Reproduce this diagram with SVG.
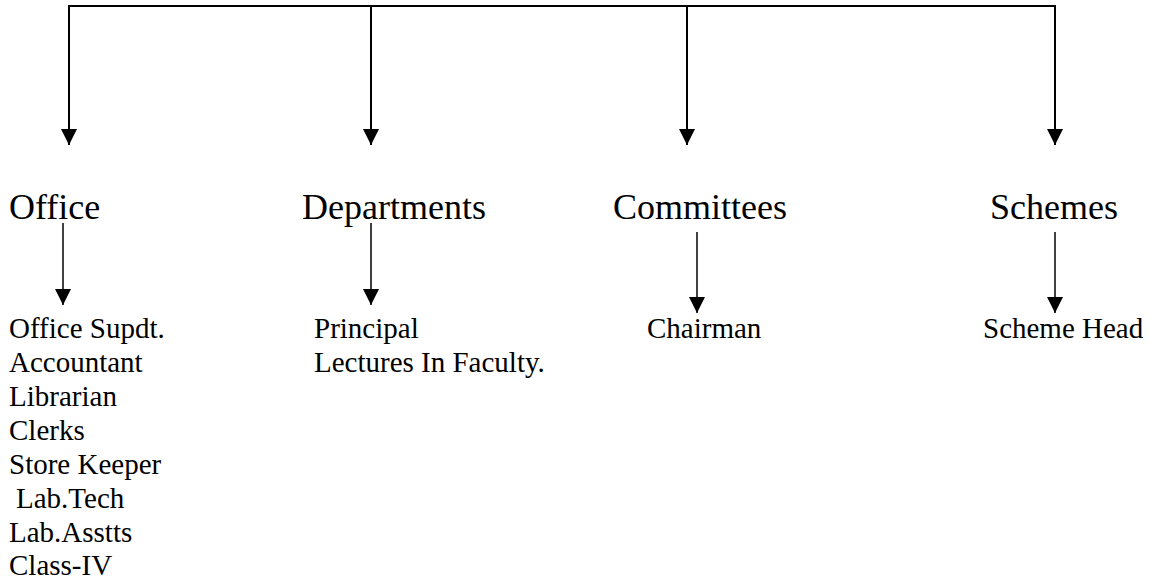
<svg xmlns="http://www.w3.org/2000/svg" width="1150" height="586" viewBox="0 0 1150 586">
<style>
.main{font-family:"Liberation Serif","Times New Roman",serif;font-size:36px;fill:#000}
.sub{font-family:"Liberation Serif","Times New Roman",serif;font-size:29px;fill:#000}
.c1{stroke:#000;stroke-width:2;fill:none}
.c2{stroke:#000;stroke-width:1.5;fill:none}
</style>
<defs>
<marker id="ah" markerUnits="userSpaceOnUse" markerWidth="16" markerHeight="16" viewBox="0 0 16 16" refX="16" refY="8" orient="auto">
<path d="M0,0 L16,8 L0,16 z" fill="#000"/>
</marker>
</defs>
<rect width="1150" height="586" fill="#fff"/>
<g id="connectors">
<line class="c1" x1="68" y1="6" x2="1056" y2="6"/>
<line class="c1" x1="69" y1="5" x2="69" y2="145" marker-end="url(#ah)"/>
<line class="c1" x1="371" y1="6" x2="371" y2="145" marker-end="url(#ah)"/>
<line class="c1" x1="687" y1="6" x2="687" y2="145" marker-end="url(#ah)"/>
<line class="c1" x1="1055" y1="5" x2="1055" y2="145" marker-end="url(#ah)"/>
<line class="c2" x1="63" y1="223" x2="63" y2="305" marker-end="url(#ah)"/>
<line class="c2" x1="371" y1="223" x2="371" y2="305" marker-end="url(#ah)"/>
<line class="c2" x1="697" y1="232" x2="697" y2="313" marker-end="url(#ah)"/>
<line class="c2" x1="1055" y1="232" x2="1055" y2="313" marker-end="url(#ah)"/>
</g>
<g id="office"><text class="main" x="9" y="219">Office</text></g>
<g id="departments"><text class="main" x="302" y="219">Departments</text></g>
<g id="committees"><text class="main" x="613" y="219">Committees</text></g>
<g id="schemes"><text class="main" x="990" y="219">Schemes</text></g>
<g id="office-staff">
<text class="sub" x="9" y="338">Office Supdt.</text>
<text class="sub" x="9" y="372">Accountant</text>
<text class="sub" x="9" y="406">Librarian</text>
<text class="sub" x="9" y="440">Clerks</text>
<text class="sub" x="9" y="474">Store Keeper</text>
<text class="sub" x="16" y="508">Lab.Tech</text>
<text class="sub" x="9" y="542">Lab.Asstts</text>
<text class="sub" x="9" y="575">Class-IV</text>
</g>
<g id="department-staff">
<text class="sub" x="314" y="338">Principal</text>
<text class="sub" x="314" y="372">Lectures In Faculty.</text>
</g>
<g id="committee-head"><text class="sub" x="647" y="338">Chairman</text></g>
<g id="scheme-head"><text class="sub" x="983" y="338">Scheme Head</text></g>
</svg>
